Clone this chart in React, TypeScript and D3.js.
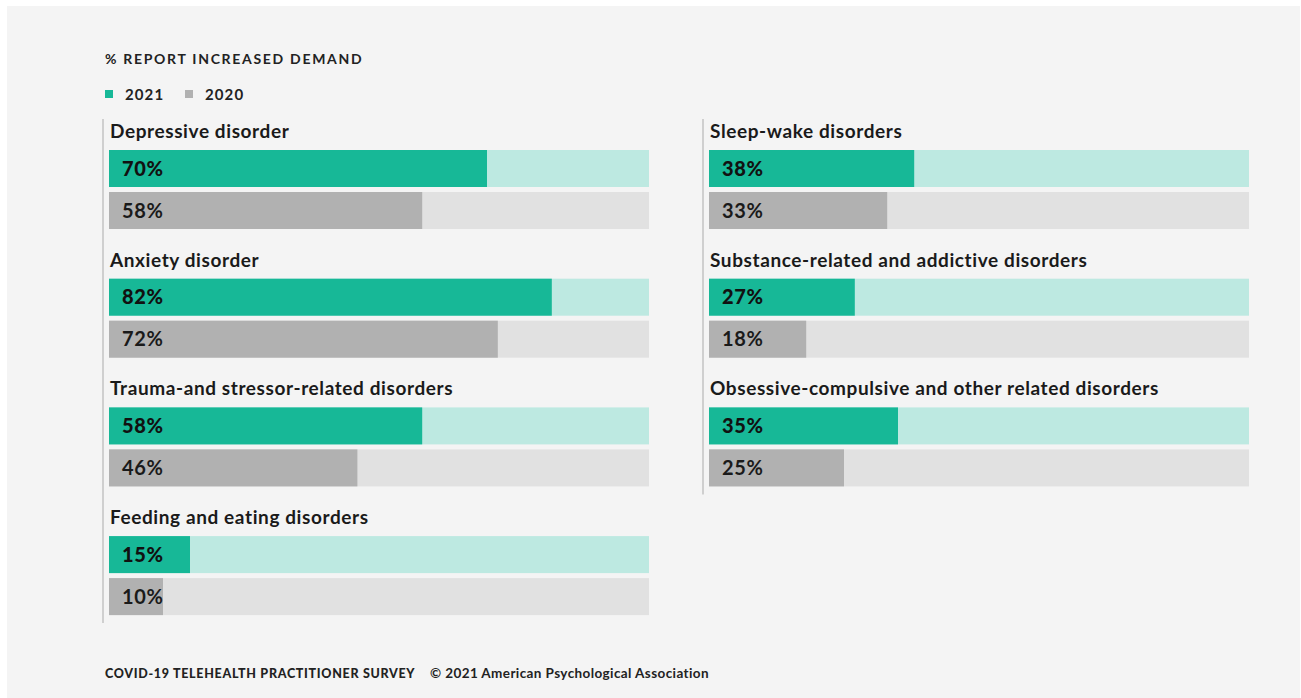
import React from "react";
import * as d3 from "d3";

const leftCategories = [
  "Depressive disorder",
  "Anxiety disorder",
  "Trauma-and stressor-related disorders",
  "Feeding and eating disorders",
];
const left2021 = [70, 82, 58, 15];
const left2020 = [58, 72, 46, 10];

const rightCategories = [
  "Sleep-wake disorders",
  "Substance-related and addictive disorders",
  "Obsessive-compulsive and other related disorders",
];
const right2021 = [38, 27, 35];
const right2020 = [33, 18, 25];

const seriesNames = ["2021", "2020"];

const W = 1301;
const H = 698;
const FONT = "Lato, 'Open Sans', sans-serif";
const C21 = "#17b897";
const C21L = "#bde9e1";
const C20 = "#b1b1b1";
const C20L = "#e1e1e1";

function Column({ x0, cats, v21, v20 }: { x0: number; cats: string[]; v21: number[]; v20: number[] }) {
  const xs = d3.scaleLinear().domain([0, 100]).range([x0, x0 + 540]);
  const ys = d3.scaleLinear().domain([0, 1]).range([0, 128.7]);
  const bottom = 150 + ys(cats.length - 1) + 79 + 4;
  return (
    <g>
      <line x1={x0 - 6} x2={x0 - 6} y1={119} y2={bottom + 4} stroke="#cfcfcf" strokeWidth={2} />
      {cats.map((c, i) => {
        const gy = 150 + ys(i);
        return (
          <g key={c}>
            <text x={x0 + 1} y={gy - 12} fontFamily={FONT} fontWeight={700} fontSize={19} letterSpacing={0.6} fill="#1a1a1a">
              {c}
            </text>
            <rect x={xs(0)} y={gy} width={xs(100) - xs(0)} height={37} fill={C21L} />
            <rect x={xs(0)} y={gy} width={xs(v21[i]) - xs(0)} height={37} fill={C21} />
            <text x={x0 + 13} y={gy + 25.5} fontFamily={FONT} fontWeight={900} fontSize={20} letterSpacing={0.6} fill="#111">
              {v21[i]}%
            </text>
            <rect x={xs(0)} y={gy + 42} width={xs(100) - xs(0)} height={37} fill={C20L} />
            <rect x={xs(0)} y={gy + 42} width={xs(v20[i]) - xs(0)} height={37} fill={C20} />
            <text x={x0 + 13} y={gy + 67.5} fontFamily={FONT} fontWeight={700} fontSize={20} letterSpacing={0.6} fill="#1a1a1a">
              {v20[i]}%
            </text>
          </g>
        );
      })}
    </g>
  );
}

export default function App() {
  return (
    <svg
      width={W}
      height={H}
      style={{ position: "absolute", left: 0, top: 0, display: "block" }}
      xmlns="http://www.w3.org/2000/svg"
    >
      <rect x={0} y={0} width={W} height={H} fill="#ffffff" />
      <rect x={7} y={6} width={1293} height={692} fill="#f4f4f4" />
      <text x={105} y={64} fontFamily={FONT} fontWeight={700} fontSize={14} letterSpacing={1.7} fill="#222">
        % REPORT INCREASED DEMAND
      </text>
      <rect x={105} y={90} width={8} height={8} fill={C21} />
      <text x={125} y={99.5} fontFamily={FONT} fontWeight={700} fontSize={15} letterSpacing={1.1} fill="#222">
        {seriesNames[0]}
      </text>
      <rect x={185} y={90} width={8} height={8} fill={C20} />
      <text x={205} y={99.5} fontFamily={FONT} fontWeight={700} fontSize={15} letterSpacing={1.1} fill="#222">
        {seriesNames[1]}
      </text>
      <Column x0={109} cats={leftCategories} v21={left2021} v20={left2020} />
      <Column x0={709} cats={rightCategories} v21={right2021} v20={right2020} />
      <text x={105} y={678} fontFamily={FONT} fontWeight={900} fontSize={12.5} letterSpacing={0.7} fill="#222">
        COVID-19 TELEHEALTH PRACTITIONER SURVEY
      </text>
      <text x={430} y={678} fontFamily={FONT} fontWeight={700} fontSize={13.5} letterSpacing={0.4} fill="#222">
        © 2021 American Psychological Association
      </text>
    </svg>
  );
}
